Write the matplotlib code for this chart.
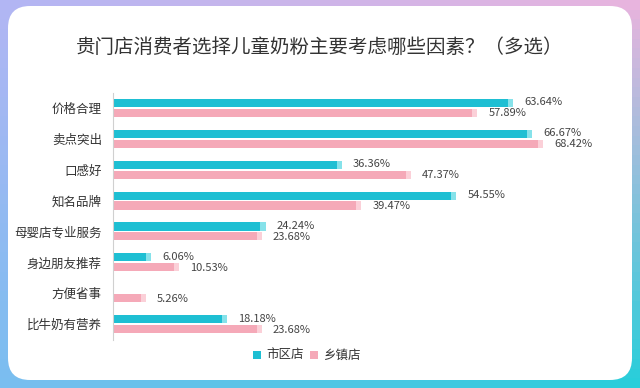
import numpy as np
import matplotlib
matplotlib.use('Agg')
import matplotlib.pyplot as plt
from matplotlib.patches import FancyBboxPatch

plt.rcParams['font.family'] = ['Noto Sans CJK SC', 'DejaVu Sans']

title = '贵门店消费者选择儿童奶粉主要考虑哪些因素？（多选）'
categories = ['价格合理', '卖点突出', '口感好', '知名品牌', '母婴店专业服务',
              '身边朋友推荐', '方便省事', '比牛奶有营养']
city = [63.64, 66.67, 36.36, 54.55, 24.24, 6.06, 0, 18.18]
town = [57.89, 68.42, 47.37, 39.47, 23.68, 10.53, 5.26, 23.68]
series_names = ['市区店', '乡镇店']

cyan = '#1ebfd3'
cyan_cap = '#86e2ea'
pink = '#f5a9b8'
pink_cap = '#fbd0d8'

W, H = 640, 388
fig = plt.figure(figsize=(W / 100, H / 100), dpi=100)

# gradient frame
bg = fig.add_axes([0, 0, 1, 1])
bg.set_axis_off()
tl = np.array([178, 182, 244])
tr = np.array([232, 180, 222])
bl = np.array([122, 190, 240])
br = np.array([40, 206, 218])
u = np.linspace(0, 1, 64)[None, :, None]
v = np.linspace(0, 1, 40)[:, None, None]
grad = (1 - v) * ((1 - u) * tl + u * tr) + v * ((1 - u) * bl + u * br)
bg.imshow(grad / 255, extent=[0, W, H, 0], aspect='auto')
bg.set_xlim(0, W)
bg.set_ylim(H, 0)
panel = FancyBboxPatch((8 + 22, 6 + 22), 624 - 44, 374 - 44,
                       boxstyle='round,pad=22', fc='white', ec='none')
bg.add_patch(panel)

fig.text(0.5, 1 - 47 / H, title, ha='center', va='center',
         fontsize=14, color='#333333')

# main chart
left, right, top, bottom = 113, 600, 92.5, 339.5
ax = fig.add_axes([left / W, 1 - bottom / H, (right - left) / W, (bottom - top) / H])
ax.patch.set_alpha(0)
y = np.arange(len(categories))
off = 0.16
h = 0.26
px = (right - left) / 77.4  # pixels per unit

ax.barh(y - off, city, height=h, color=cyan)
ax.barh(y + off, town, height=h, color=pink)
for i in range(len(categories)):
    if city[i] > 0:
        ax.barh(y[i] - off, 0.8, left=city[i] - 0.8, height=h, color=cyan_cap)
        ax.text(city[i] + 11 / px, y[i] - off - 0.02, f'{city[i]:.2f}%',
                va='center', ha='left', fontsize=8, color='#444444')
    if town[i] > 0:
        ax.barh(y[i] + off, 0.8, left=town[i] - 0.8, height=h, color=pink_cap)
        ax.text(town[i] + 11 / px, y[i] + off + 0.02, f'{town[i]:.2f}%',
                va='center', ha='left', fontsize=8, color='#444444')

ax.set_xlim(0, 77.4)
ax.set_ylim(len(categories) - 0.5, -0.5)
ax.set_yticks(y)
ax.set_yticklabels(categories, fontsize=9, color='#333333')
ax.tick_params(axis='y', length=0, pad=8)
ax.set_xticks([])
for s in ['top', 'right', 'bottom']:
    ax.spines[s].set_visible(False)
ax.spines['left'].set_color('#d0d0d0')
ax.spines['left'].set_linewidth(0.8)

# legend
ly = 1 - 355 / H
fig.patches.append(plt.Rectangle((253 / W, ly - 4 / H), 8 / W, 8 / H,
                                 transform=fig.transFigure, fc=cyan, ec='none'))
fig.text(266 / W, ly, series_names[0], va='center', ha='left', fontsize=9, color='#333333')
fig.patches.append(plt.Rectangle((310 / W, ly - 4 / H), 8 / W, 8 / H,
                                 transform=fig.transFigure, fc=pink, ec='none'))
fig.text(323 / W, ly, series_names[1], va='center', ha='left', fontsize=9, color='#333333')

fig.savefig('out.png', dpi=100)
